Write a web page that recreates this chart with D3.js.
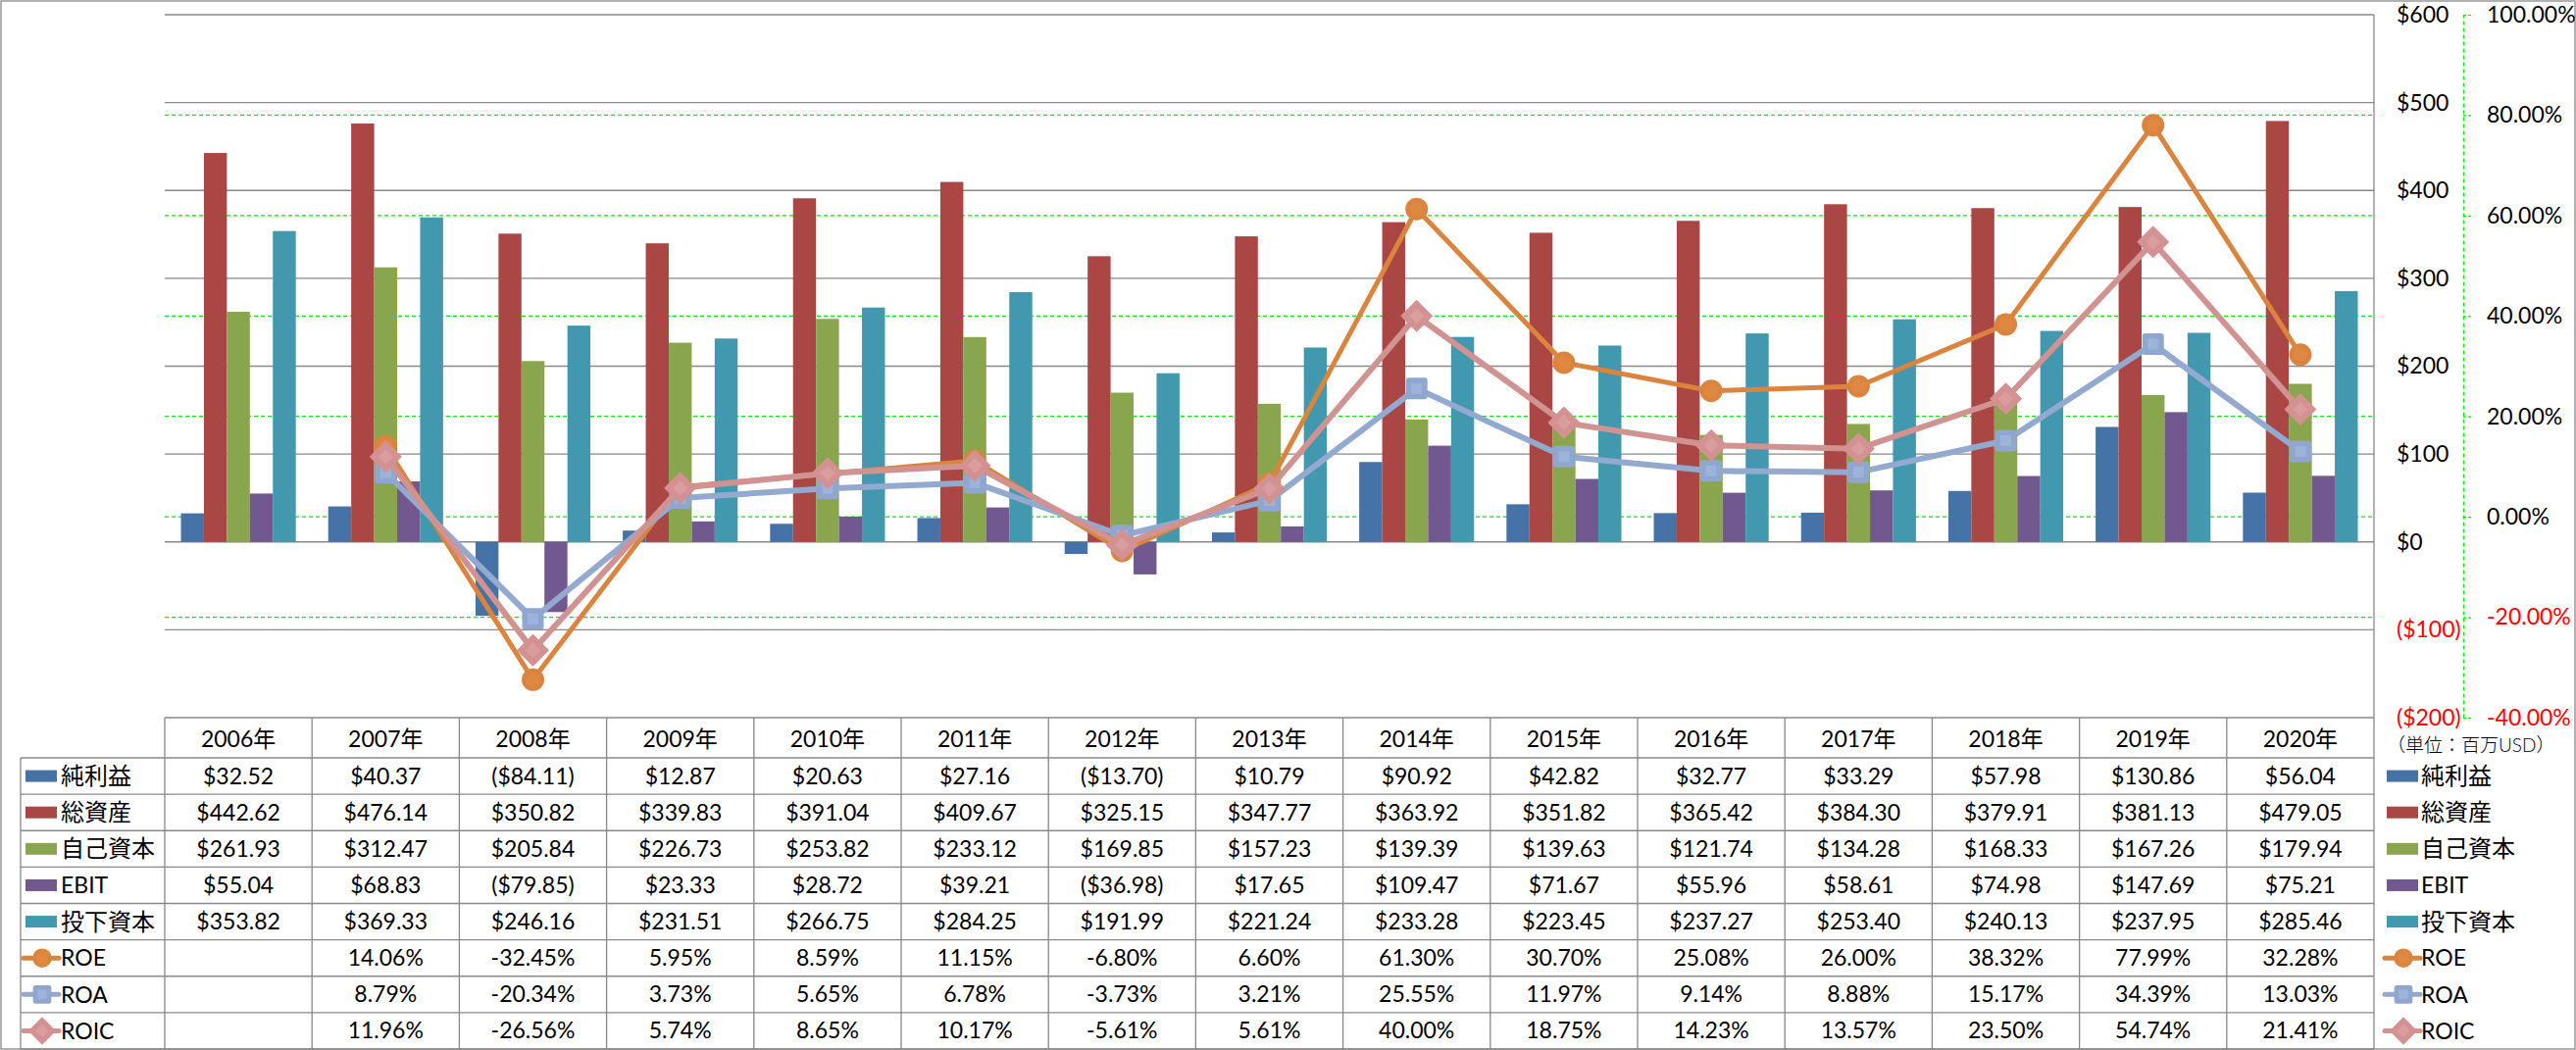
<!DOCTYPE html>
<html><head><meta charset="utf-8">
<script src="https://cdn.jsdelivr.net/npm/d3@7"></script>
<style>
html,body{margin:0;padding:0;background:#fff;}
text{font-family:Lato,"Noto Sans CJK JP",sans-serif;}
</style></head>
<body>
<svg id="chart" width="2627" height="1071"></svg>
<script>
// ---- data ----
const years = ["2006年","2007年","2008年","2009年","2010年","2011年","2012年","2013年","2014年","2015年","2016年","2017年","2018年","2019年","2020年"];
const barNames = ["純利益","総資産","自己資本","EBIT","投下資本"];
const netIncome   = [32.52, 40.37, -84.11, 12.87, 20.63, 27.16, -13.70, 10.79, 90.92, 42.82, 32.77, 33.29, 57.98, 130.86, 56.04];
const totalAssets = [442.62, 476.14, 350.82, 339.83, 391.04, 409.67, 325.15, 347.77, 363.92, 351.82, 365.42, 384.30, 379.91, 381.13, 479.05];
const equity      = [261.93, 312.47, 205.84, 226.73, 253.82, 233.12, 169.85, 157.23, 139.39, 139.63, 121.74, 134.28, 168.33, 167.26, 179.94];
const ebit        = [55.04, 68.83, -79.85, 23.33, 28.72, 39.21, -36.98, 17.65, 109.47, 71.67, 55.96, 58.61, 74.98, 147.69, 75.21];
const investedCap = [353.82, 369.33, 246.16, 231.51, 266.75, 284.25, 191.99, 221.24, 233.28, 223.45, 237.27, 253.40, 240.13, 237.95, 285.46];
const lineNames = ["ROE","ROA","ROIC"];
const roe  = [null, 14.06, -32.45, 5.95, 8.59, 11.15, -6.80, 6.60, 61.30, 30.70, 25.08, 26.00, 38.32, 77.99, 32.28];
const roa  = [null, 8.79, -20.34, 3.73, 5.65, 6.78, -3.73, 3.21, 25.55, 11.97, 9.14, 8.88, 15.17, 34.39, 13.03];
const roic = [null, 11.96, -26.56, 5.74, 8.65, 10.17, -5.61, 5.61, 40.00, 18.75, 14.23, 13.57, 23.50, 54.74, 21.41];
const moneyTicks = [-200,-100,0,100,200,300,400,500,600];
const pctTicks = [-40,-20,0,20,40,60,80,100];
const unitLabel = "（単位：百万USD）";

const barSeries = [netIncome, totalAssets, equity, ebit, investedCap];
const lineSeries = [roe, roa, roic];
const barColors = ["#4572A7","#AA4643","#89A54E","#71588F","#4198AF"];
const lineColors = ["#DB843D","#93A9CF","#D19392"];
const markerTypes = ["circle","square","diamond"];

// ---- layout ----
const svg = d3.select("#chart");
const L = 168, R = 2421, TOP = 15, BOT = 732;
const GRID = "#888888";
const FS = 23;
const x = d3.scaleBand().domain(years).range([L, R]).padding(0);
const bw = x.bandwidth();
const xi = d3.scaleBand().domain(barNames).range([(bw - bw*0.78)/2, (bw + bw*0.78)/2]).padding(0);
const y = d3.scaleLinear().domain([-200, 600]).range([BOT, TOP]);
const yp = d3.scaleLinear().domain([-40, 100]).range([BOT, TOP]);

// outer border
svg.append("rect").attr("x",1).attr("y",1).attr("width",2625).attr("height",1069)
  .attr("fill","none").attr("stroke",GRID).attr("stroke-width",1.3);

// green dashed gridlines (percent axis)
svg.append("g").selectAll("line").data(pctTicks.filter(t => t > -40 && t < 100)).join("line")
  .attr("x1", L).attr("x2", R).attr("y1", d => yp(d)).attr("y2", d => yp(d))
  .attr("stroke","#00ee00").attr("stroke-width",1.2).attr("stroke-dasharray","4,3");

// gray gridlines (money axis)
svg.append("g").selectAll("line").data(moneyTicks.filter(t => t > -200)).join("line")
  .attr("x1", L).attr("x2", R).attr("y1", d => y(d)).attr("y2", d => y(d))
  .attr("stroke",GRID).attr("stroke-width",1.3);

// bars
const bars = svg.append("g");
years.forEach((yr, i) => {
  barNames.forEach((name, s) => {
    const v = barSeries[s][i];
    bars.append("rect")
      .attr("x", x(yr) + xi(name))
      .attr("width", xi.bandwidth())
      .attr("y", Math.min(y(v), y(0)))
      .attr("height", Math.abs(y(v) - y(0)))
      .attr("fill", barColors[s]);
  });
});

// marker drawing helper
function drawMarker(g, type, cx, cy, color, scale) {
  scale = scale || 1;
  if (type === "circle") {
    g.append("circle").attr("cx",cx).attr("cy",cy).attr("r",11.5*scale).attr("fill",color);
    g.append("circle").attr("cx",cx).attr("cy",cy).attr("r",7*scale).attr("fill","#DF8B45").attr("opacity",0.6);
  } else if (type === "square") {
    const s = 22*scale;
    g.append("rect").attr("x",cx-s/2).attr("y",cy-s/2).attr("width",s).attr("height",s).attr("rx",3*scale).attr("fill","#8FA7D0");
    g.append("rect").attr("x",cx-s/4).attr("y",cy-s/4).attr("width",s/2).attr("height",s/2).attr("fill","#9DB3D8");
  } else {
    const h = 15.5*scale;
    g.append("path").attr("d",`M${cx},${cy-h}L${cx+h},${cy}L${cx},${cy+h}L${cx-h},${cy}Z`).attr("fill","#D39291")
      .attr("stroke","#D39291").attr("stroke-width",1.5).attr("stroke-linejoin","round");
    g.append("path").attr("d",`M${cx},${cy-h/2}L${cx+h/2},${cy}L${cx},${cy+h/2}L${cx-h/2},${cy}Z`).attr("fill","#D89D9C");
  }
}

// lines
const lineWidths = [5, 6, 6];
lineSeries.forEach((data, s) => {
  const g = svg.append("g");
  const pts = years.map((yr, i) => ({yr, v: data[i]})).filter(d => d.v !== null);
  const line = d3.line().x(d => x(d.yr) + bw/2).y(d => yp(d.v));
  g.append("path").attr("d", line(pts)).attr("fill","none")
    .attr("stroke", lineColors[s]).attr("stroke-width", lineWidths[s]).attr("stroke-linejoin","round");
  pts.forEach(d => drawMarker(g, markerTypes[s], x(d.yr) + bw/2, yp(d.v), lineColors[s]));
});

// number formats (ASCII hyphen for negatives)
const moneyFmt = v => v < 0 ? "($" + (-v) + ")" : "$" + v;
const pctFmt = v => (v < 0 ? "-" : "") + Math.abs(v).toFixed(2) + "%";
const moneyCell = v => v < 0 ? "($" + (-v).toFixed(2) + ")" : "$" + v.toFixed(2);
const pctCell = v => v === null ? "" : pctFmt(v);

// money axis (labels only)
const ax1 = svg.append("g").attr("transform",`translate(${R},0)`)
  .call(d3.axisRight(y).tickValues(moneyTicks).tickFormat(moneyFmt).tickSize(0).tickPadding(23));
ax1.select(".domain").remove();
ax1.selectAll("text").attr("font-size",FS).attr("font-family","Lato")
  .attr("fill", d => d < 0 ? "#ff0000" : "#000");

// percent axis
const ax2 = svg.append("g").attr("transform",`translate(2512,0)`)
  .call(d3.axisRight(yp).tickValues(pctTicks).tickFormat(pctFmt).tickSizeInner(8).tickSizeOuter(0).tickPadding(16));
ax2.select(".domain").attr("stroke","#00ee00").attr("stroke-width",1.2).attr("stroke-dasharray","4,3");
ax2.selectAll(".tick line").attr("stroke","#00ee00").attr("stroke-width",1.2).attr("stroke-dasharray","3,2");
ax2.selectAll("text").attr("font-size",FS).attr("font-family","Lato")
  .attr("fill", d => d < 0 ? "#ff0000" : "#000");

// ---- data table ----
const tbl = svg.append("g");
const HEAD_T = 732, HEAD_B = 773, TBL_B = 1070, LAB_L = 21;
const rowH = (TBL_B - HEAD_B) / 8;
const rowNames = barNames.concat(lineNames);
const rowData = barSeries.concat(lineSeries);
function hline(x1, x2, yy) { tbl.append("line").attr("x1",x1).attr("x2",x2).attr("y1",yy).attr("y2",yy).attr("stroke",GRID).attr("stroke-width",1.3); }
function vline(xx, y1, y2) { tbl.append("line").attr("x1",xx).attr("x2",xx).attr("y1",y1).attr("y2",y2).attr("stroke",GRID).attr("stroke-width",1.3); }
hline(L, R, HEAD_T);
for (let r = 0; r <= 8; r++) hline(LAB_L, R, HEAD_B + r*rowH);
vline(LAB_L, HEAD_B, TBL_B);
years.forEach(yr => vline(x(yr), HEAD_T, TBL_B));
vline(R, TOP, TBL_B);

// header
years.forEach(yr => {
  tbl.append("text").attr("x", x(yr) + bw/2).attr("y", (HEAD_T + HEAD_B)/2 + 1).attr("dy","0.35em")
    .attr("text-anchor","middle").attr("font-size",FS).text(yr);
});
rowNames.forEach((name, r) => {
  const cy = HEAD_B + r*rowH + rowH/2;
  years.forEach((yr, i) => {
    const v = rowData[r][i];
    const t = r < 5 ? moneyCell(v) : pctCell(v);
    tbl.append("text").attr("x", x(yr) + bw/2).attr("y", cy).attr("dy","0.35em")
      .attr("text-anchor","middle").attr("font-size",FS).text(t);
  });
});

// legend keys (table row labels and right legend)
function legendKey(g, r, kx, tx, cy) {
  const name = rowNames[r];
  if (r < 5) {
    g.append("rect").attr("x", kx).attr("y", cy - 6).attr("width", 32).attr("height", 12).attr("fill", barColors[r]);
  } else {
    const s = r - 5;
    g.append("line").attr("x1", kx - 2).attr("x2", kx + 34).attr("y1", cy).attr("y2", cy)
      .attr("stroke", lineColors[s]).attr("stroke-width", 5).attr("stroke-linecap","round");
    drawMarker(g, markerTypes[s], kx + 17, cy, lineColors[s], 0.85);
  }
  const cjk = /[\u3000-\u9fff]/.test(name);
  g.append("text").attr("x", tx).attr("y", cy).attr("dy", "0.36em")
    .attr("font-size", cjk ? 24 : FS).text(name);
}
rowNames.forEach((name, r) => {
  const cy = HEAD_B + r*rowH + rowH/2;
  legendKey(tbl, r, 26, 62, cy);
  legendKey(svg, r, 2434, 2469, cy);
});

svg.append("text").attr("x", 2434).attr("y", 760).attr("dy","0.35em")
  .attr("font-size", 19).attr("font-family","'Noto Sans CJK JP'").attr("font-weight",300).text(unitLabel);
</script>
</body></html>
